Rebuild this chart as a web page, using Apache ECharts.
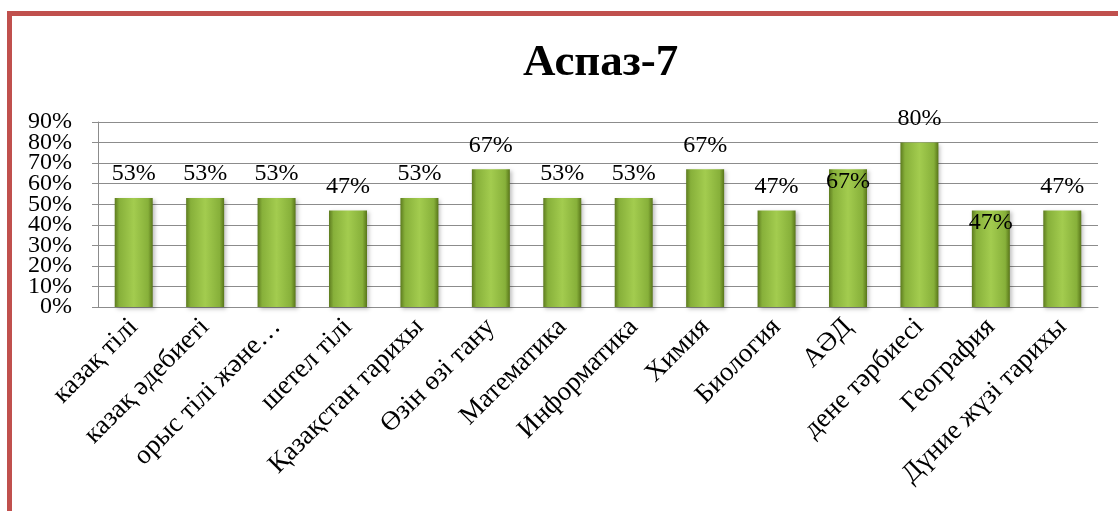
<!DOCTYPE html>
<html lang="kk">
  <head>
    <meta charset="UTF-8" />
    <title>Аспаз-7</title>
    <script src="https://cdn.jsdelivr.net/npm/echarts@6/dist/echarts.min.js"></script>
  </head>
  <style>
    html,
    body {
      margin: 0;
      padding: 0;
      width: 1118px;
      height: 511px;
      background: #fff;
      overflow: hidden;
    }
    .frame {
      position: absolute;
      left: 7px;
      top: 11px;
      width: 1300px;
      height: 700px;
      border-left: 5px solid #c0504d;
      border-top: 5px solid #c0504d;
    }
    #chart {
      position: absolute;
      left: 0;
      top: 0;
      width: 1118px;
      height: 511px;
    }
  </style>
  <body>
    <div class="frame"></div>
    <div id="chart"></div>
  </body>
  <script>
    const titleText = "Аспаз-7";
    const subjects = [
      "казақ тілі",
      "казақ әдебиеті",
      "орыс тілі және…",
      "шетел тілі",
      "Қазақстан тарихы",
      "Өзін өзі тану",
      "Математика",
      "Информатика",
      "Химия",
      "Биология",
      "АӘД",
      "дене тәрбиесі",
      "География",
      "Дүние жүзі тарихы",
    ];
    const percents = [53, 53, 53, 47, 53, 67, 53, 53, 67, 47, 67, 80, 47, 47];
    const yTicks = [0, 10, 20, 30, 40, 50, 60, 70, 80, 90];
    // labels Excel put inside the bar top
    const insideLabels = ["АӘД", "География"];

    const serif = "'Liberation Serif', 'DejaVu Serif', serif";

    const barColor = {
      type: "linear",
      x: 0,
      y: 0,
      x2: 1,
      y2: 0,
      colorStops: [
        { offset: 0, color: "#5d7b1f" },
        { offset: 0.12, color: "#87b03a" },
        { offset: 0.5, color: "#a3cc4f" },
        { offset: 0.88, color: "#87b03a" },
        { offset: 1, color: "#587519" },
      ],
    };

    const seriesData = percents.map((v, i) => {
      const item = { value: v };
      if (insideLabels.includes(subjects[i])) {
        item.label = { position: "insideTop", distance: 0 };
      }
      return item;
    });

    // the tick labels sit closer than their height, so split them
    // over two axes to stop echarts hiding every other one
    const evenTicks = yTicks.filter((t, i) => i % 2 === 0);
    const oddTicks = yTicks.filter((t, i) => i % 2 === 1);

    const yLabel = (values) => ({
      margin: 26,
      customValues: values,
      fontFamily: serif,
      fontSize: 24,
      color: "#000",
      formatter: "{value}%",
    });

    const chart = echarts.init(document.getElementById("chart"));
    chart.setOption({
      animation: false,
      title: {
        text: titleText,
        left: 518,
        top: 36,
        textStyle: {
          fontFamily: serif,
          fontWeight: "bold",
          fontSize: 45,
          color: "#000",
        },
      },
      grid: {
        left: 98,
        right: 20,
        top: 122,
        bottom: 204,
      },
      xAxis: {
        type: "category",
        data: subjects,
        axisLine: { lineStyle: { color: "#8c8c8c", width: 1 } },
        axisTick: { length: 6, lineStyle: { color: "#8c8c8c" } },
        axisLabel: {
          rotate: 45,
          interval: 0,
          margin: 16,
          fontFamily: serif,
          fontSize: 27,
          color: "#000",
        },
      },
      yAxis: [
        {
          type: "value",
          position: "left",
          min: 0,
          max: 90,
          interval: 10,
          axisLine: { show: true, lineStyle: { color: "#8c8c8c" } },
          axisTick: { show: true, length: 6, lineStyle: { color: "#8c8c8c" } },
          splitLine: { lineStyle: { color: "#8c8c8c", width: 1 } },
          axisLabel: yLabel(evenTicks),
        },
        {
          type: "value",
          position: "left",
          min: 0,
          max: 90,
          interval: 10,
          axisLine: { show: false },
          axisTick: { show: false },
          splitLine: { show: false },
          axisLabel: yLabel(oddTicks),
        },
      ],
      series: [
        {
          type: "bar",
          data: seriesData,
          barWidth: 38,
          itemStyle: {
            color: barColor,
            shadowColor: "rgba(0,0,0,0.25)",
            shadowBlur: 4,
            shadowOffsetX: 2,
            shadowOffsetY: 2,
          },
          label: {
            show: true,
            position: "top",
            distance: 12,
            fontFamily: serif,
            fontSize: 24,
            color: "#000",
            formatter: "{c}%",
          },
        },
      ],
    });
  </script>
</html>
